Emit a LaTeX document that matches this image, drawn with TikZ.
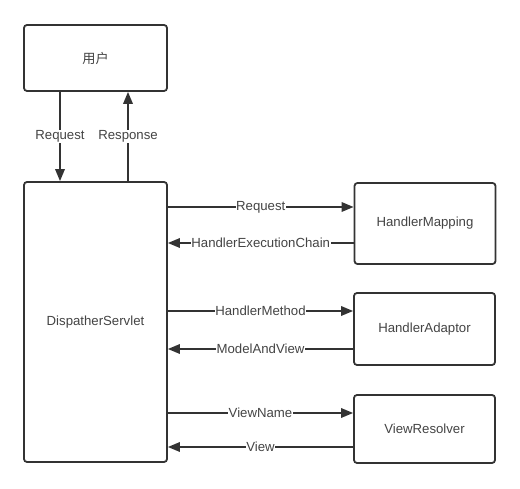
\documentclass[tikz,border=0pt]{standalone}
\usepackage{fontspec}
\setmainfont{Liberation Sans}
\newfontfamily\cjk{Noto Sans CJK SC}
\usetikzlibrary{arrows.meta}
\definecolor{linegray}{HTML}{333333}
\definecolor{textgray}{HTML}{444444}
\begin{document}
\begin{tikzpicture}[x=1pt,y=-1pt]
\tikzset{box/.style = {draw=linegray,line width=1.8pt,rounded corners=3pt,fill=white,text=textgray,font=\fontsize{13.2}{15}\selectfont}}
\tikzset{edge/.style = {draw=linegray,line width=1.8pt,-{Triangle[length=12pt,width=9.5pt]}}}
\tikzset{lbl/.style = {fill=white,inner sep=0.5pt,text=textgray,font=\fontsize{13.2}{15}\selectfont}}
\useasboundingbox (0,0) rectangle (520,489);

% Spring MVC request flow
\node[box,minimum width=143pt,minimum height=66pt] (user) at (95.5,58) {\cjk 用户};
\node[box,minimum width=143pt,minimum height=280pt] (ds) at (95.5,322) {DispatherServlet};
\node[box,minimum width=141pt,minimum height=81pt] (hm) at (425,223.5) {HandlerMapping};
\node[box,minimum width=141pt,minimum height=72pt] (ha) at (424.5,329) {HandlerAdaptor};
\node[box,minimum width=141pt,minimum height=68pt] (vr) at (424.5,429) {ViewResolver};

\draw[edge] (user.south -| 60,0) -- node[lbl] {Request} (ds.north -| 60,0);
\draw[edge] (ds.north -| 128,0) -- node[lbl] {Response} (user.south -| 128,0);

\draw[edge] (ds.east |- 0,207) -- node[lbl] {Request} (hm.west |- 0,207);
\draw[edge] (hm.west |- 0,243) -- node[lbl] {HandlerExecutionChain} (ds.east |- 0,243);
\draw[edge] (ds.east |- 0,311) -- node[lbl] {HandlerMethod} (ha.west |- 0,311);
\draw[edge] (ha.west |- 0,349) -- node[lbl] {ModelAndView} (ds.east |- 0,349);
\draw[edge] (ds.east |- 0,413) -- node[lbl] {ViewName} (vr.west |- 0,413);
\draw[edge] (vr.west |- 0,447) -- node[lbl] {View} (ds.east |- 0,447);

\end{tikzpicture}
\end{document}
